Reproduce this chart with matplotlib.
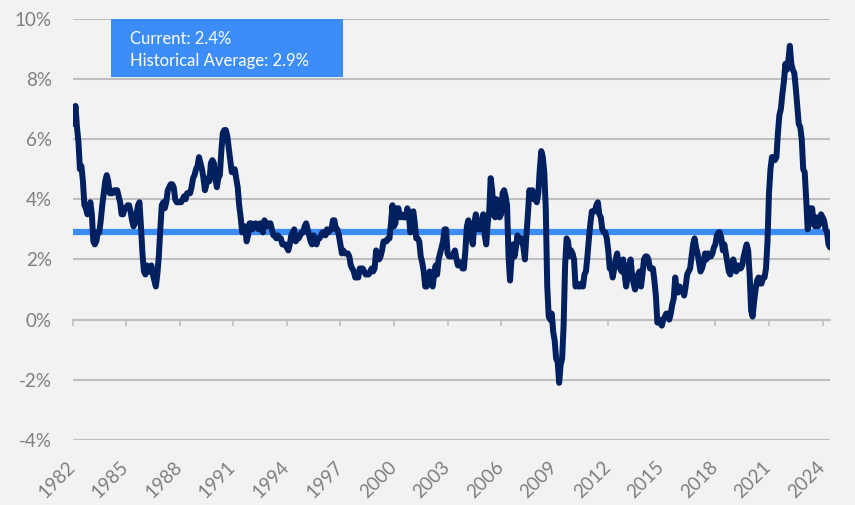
import numpy as np
import pandas as pd
import matplotlib
matplotlib.use("Agg")
import matplotlib.pyplot as plt
from matplotlib.patches import Rectangle

# year-over-year inflation, monthly, starting April 1982 (%)
start_month = "1982-04"
inflation = [
    6.5, 6.7, 7.1, 6.4, 5.9, 5.0, 5.1, 4.6, 3.8,                    # 1982
    3.7, 3.5, 3.6, 3.9, 3.5, 2.6, 2.5, 2.6, 2.9, 2.9, 3.3, 3.8,     # 1983
    4.2, 4.6, 4.8, 4.6, 4.2, 4.2, 4.2, 4.3, 4.3, 4.3, 4.1, 3.9,     # 1984
    3.5, 3.5, 3.7, 3.7, 3.8, 3.8, 3.6, 3.3, 3.1, 3.2, 3.5, 3.8,     # 1985
    3.9, 3.1, 2.2, 1.6, 1.5, 1.8, 1.6, 1.6, 1.8, 1.5, 1.3, 1.1,     # 1986
    1.5, 2.1, 3.0, 3.8, 3.9, 3.7, 3.9, 4.3, 4.4, 4.5, 4.5, 4.4,     # 1987
    4.0, 3.9, 3.9, 3.9, 3.9, 4.0, 4.1, 4.0, 4.2, 4.2, 4.2, 4.4,     # 1988
    4.7, 4.8, 5.0, 5.1, 5.4, 5.2, 5.0, 4.7, 4.3, 4.5, 4.7, 4.6,     # 1989
    5.2, 5.3, 5.2, 4.7, 4.4, 4.7, 4.8, 5.6, 6.2, 6.3, 6.3, 6.1,     # 1990
    5.7, 5.3, 4.9, 4.9, 5.0, 4.7, 4.4, 3.8, 3.4, 2.9, 3.0, 3.1,     # 1991
    2.6, 2.8, 3.2, 3.2, 3.0, 3.1, 3.2, 3.1, 3.0, 3.2, 3.0, 2.9,     # 1992
    3.3, 3.2, 3.1, 3.2, 3.2, 3.0, 2.8, 2.8, 2.7, 2.8, 2.7, 2.7,     # 1993
    2.5, 2.5, 2.5, 2.4, 2.3, 2.5, 2.8, 2.9, 3.0, 2.6, 2.7, 2.7,     # 1994
    2.8, 2.9, 2.9, 3.1, 3.2, 3.0, 2.8, 2.6, 2.5, 2.8, 2.6, 2.5,     # 1995
    2.7, 2.7, 2.8, 2.9, 2.9, 2.8, 3.0, 2.9, 3.0, 3.0, 3.3, 3.3,     # 1996
    3.0, 3.0, 2.8, 2.5, 2.2, 2.3, 2.2, 2.2, 2.2, 2.1, 1.8, 1.7,     # 1997
    1.6, 1.4, 1.4, 1.4, 1.7, 1.7, 1.7, 1.6, 1.5, 1.5, 1.5, 1.6,     # 1998
    1.7, 1.6, 1.7, 2.3, 2.1, 2.0, 2.1, 2.3, 2.6, 2.6, 2.6, 2.7,     # 1999
    2.7, 3.2, 3.8, 3.1, 3.2, 3.7, 3.7, 3.4, 3.5, 3.4, 3.4, 3.4,     # 2000
    3.7, 3.5, 2.9, 3.3, 3.6, 3.2, 2.7, 2.7, 2.6, 2.1, 1.9, 1.6,     # 2001
    1.1, 1.1, 1.5, 1.6, 1.2, 1.1, 1.5, 1.8, 1.5, 2.0, 2.2, 2.4,     # 2002
    2.6, 3.0, 3.0, 2.2, 2.1, 2.1, 2.1, 2.2, 2.3, 2.0, 1.8, 1.9,     # 2003
    1.9, 1.7, 1.7, 2.3, 3.1, 3.3, 3.0, 2.7, 2.5, 3.2, 3.5, 3.3,     # 2004
    3.0, 3.0, 3.1, 3.5, 2.8, 2.5, 3.2, 3.6, 4.7, 4.3, 3.5, 3.4,     # 2005
    4.0, 3.6, 3.4, 3.5, 4.2, 4.3, 4.1, 3.8, 2.1, 1.3, 2.0, 2.5,     # 2006
    2.1, 2.4, 2.8, 2.6, 2.7, 2.7, 2.4, 2.0, 2.8, 3.5, 4.3, 4.1,     # 2007
    4.3, 4.0, 4.0, 3.9, 4.2, 5.0, 5.6, 5.4, 4.9, 3.7, 1.1, 0.1,     # 2008
    0.0, 0.2, -0.4, -0.7, -1.3, -1.4, -2.1, -1.5, -1.3, -0.2, 1.8, 2.7,  # 2009
    2.6, 2.1, 2.3, 2.2, 2.0, 1.1, 1.2, 1.1, 1.1, 1.2, 1.1, 1.5,     # 2010
    1.6, 2.1, 2.7, 3.2, 3.6, 3.6, 3.6, 3.8, 3.9, 3.5, 3.4, 3.0,     # 2011
    2.9, 2.9, 2.7, 2.3, 1.7, 1.7, 1.4, 1.7, 2.0, 2.2, 1.8, 1.7,     # 2012
    1.6, 2.0, 1.5, 1.1, 1.4, 1.8, 2.0, 1.5, 1.2, 1.0, 1.2, 1.5,     # 2013
    1.6, 1.1, 1.5, 2.0, 2.1, 2.1, 2.0, 1.7, 1.7, 1.7, 1.3, 0.8,     # 2014
    -0.1, 0.0, -0.1, -0.2, 0.0, 0.1, 0.2, 0.2, 0.0, 0.2, 0.5, 0.7,  # 2015
    1.4, 1.0, 0.9, 1.1, 1.0, 1.0, 0.8, 1.1, 1.5, 1.6, 1.7, 2.1,     # 2016
    2.5, 2.7, 2.4, 2.2, 1.9, 1.6, 1.7, 1.9, 2.2, 2.0, 2.2, 2.1,     # 2017
    2.1, 2.2, 2.4, 2.5, 2.8, 2.9, 2.9, 2.7, 2.3, 2.5, 2.2, 1.9,     # 2018
    1.6, 1.5, 1.9, 2.0, 1.8, 1.6, 1.8, 1.7, 1.7, 1.8, 2.1, 2.3,     # 2019
    2.5, 2.3, 1.5, 0.3, 0.1, 0.6, 1.0, 1.3, 1.4, 1.2, 1.2, 1.4,     # 2020
    1.4, 1.7, 2.6, 4.2, 5.0, 5.4, 5.4, 5.3, 5.4, 6.2, 6.8, 7.0,     # 2021
    7.5, 7.9, 8.5, 8.3, 8.6, 9.1, 8.5, 8.3, 8.2, 7.7, 7.1, 6.5,     # 2022
    6.4, 6.0, 5.0, 4.9, 4.0, 3.0, 3.2, 3.7, 3.7, 3.2, 3.1, 3.4,     # 2023
    3.1, 3.2, 3.5, 3.4, 3.3, 3.0, 2.9, 2.5, 2.4,                    # 2024
]
hist_avg = 2.9
current = 2.4
y_ticks = [-4, -2, 0, 2, 4, 6, 8, 10]
tick_step = 36  # months between x labels

navy = "#002060"
blue = "#3C8DF7"
bg = "#F2F2F2"
grid_c = "#BFBFBF"
text_c = "#7F7F7F"

dates = pd.date_range(start_month, periods=len(inflation), freq="MS")
idx = np.arange(len(inflation))

plt.rcParams['font.family'] = ['Lato', 'DejaVu Sans']

fig = plt.figure(figsize=(8.55, 5.05), dpi=100, facecolor=bg)
ax = fig.add_axes([72.5 / 855, 65 / 505, 757.5 / 855, 421.3 / 505])
ax.set_facecolor(bg)

ax.set_ylim(-4, 10)
ax.set_xlim(0, len(inflation) - 1)
ax.set_yticks(y_ticks)
ax.set_yticklabels([f"{v}%" for v in y_ticks], color=text_c, fontsize=13.5)
ax.tick_params(axis='y', length=0, pad=15)
ax.grid(axis='y', color=grid_c, linewidth=1.5, zorder=1)
ax.grid(axis='x', visible=False)

for s in ['left', 'right', 'top']:
    ax.spines[s].set_visible(False)
ax.spines['bottom'].set_position(('data', 0))
ax.spines['bottom'].set_color(grid_c)
ax.spines['bottom'].set_linewidth(1.5)

xt = idx[::tick_step]
ax.set_xticks(xt)
ax.set_xticklabels([])
ax.tick_params(axis='x', direction='out', length=4, width=1.2, color=grid_c)
for i in xt:
    ax.annotate(str(dates[i].year), xy=(i, 0), xycoords=('data', 'axes fraction'),
                xytext=(4, -13), textcoords='offset points',
                rotation=45, ha='right', va='top', fontsize=13.5, color=text_c)

ax.axhline(hist_avg, color=blue, linewidth=4.5, zorder=3)
ax.plot(idx, inflation, color=navy, linewidth=4.3, solid_capstyle='round',
        solid_joinstyle='round', zorder=4)

# annotation box
x0 = (111 - 72.5) / 757.5
w = 232 / 757.5
y0 = (440 - 77) / 421.3
ax.add_patch(Rectangle((x0, y0), w, 1 - y0, transform=ax.transAxes,
                       facecolor=blue, edgecolor='none', zorder=5, clip_on=False))
ax.text(x0 + 19 / 757.5, 1 - 20 / 421.3, f"Current: {current}%",
        transform=ax.transAxes, color='white', fontsize=12, va='center', zorder=6)
ax.text(x0 + 19 / 757.5, 1 - 42 / 421.3, f"Historical Average: {hist_avg}%",
        transform=ax.transAxes, color='white', fontsize=12, va='center', zorder=6)

fig.savefig("out.png", dpi=100, facecolor=bg)
